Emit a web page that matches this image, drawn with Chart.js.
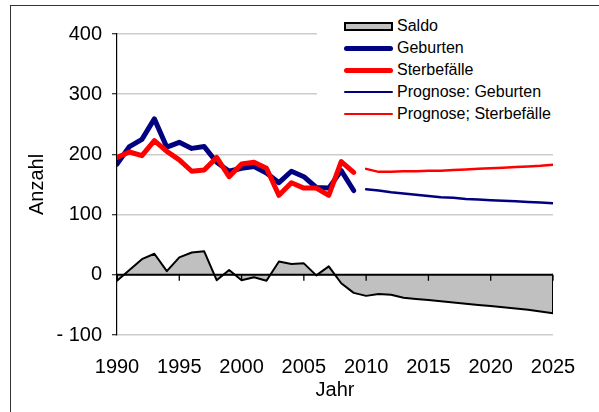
<!DOCTYPE html>
<html lang="de">
<head>
<meta charset="utf-8">
<title>Geburten und Sterbefälle</title>
<script src="https://cdn.jsdelivr.net/npm/chart.js@4"></script>
<style>
  body { margin: 0; background: #fff; }
  #wrap { position: relative; width: 599px; height: 412px; overflow: hidden; }
  #rahmen { position: absolute; left: 10px; top: 5px; width: 640px; height: 440px; border: 1.5px solid #333; pointer-events: none; }
  #legende { position: absolute; left: 317px; top: 15px; width: 262px; height: 110px; background: #fff;
             font-family: "Liberation Sans", Arial, sans-serif; font-size: 16px; color: #000; }
  .zeile { display: flex; align-items: center; height: 22px; }
  .sym { display: inline-block; margin-left: 27px; width: 49px; box-sizing: border-box; }
  .txt { margin-left: 4px; white-space: nowrap; }
</style>
</head>
<body>
<div id="wrap">
  <canvas id="grafik" width="599" height="412"></canvas>
  <div id="legende"></div>
  <div id="rahmen"></div>
</div>
<script>
// Jahre und Achsenbeschriftungen
const jahreIst = [1990, 1991, 1992, 1993, 1994, 1995, 1996, 1997, 1998, 1999,
                  2000, 2001, 2002, 2003, 2004, 2005, 2006, 2007, 2008, 2009];
const jahrePrognose = [2010, 2011, 2012, 2013, 2014, 2015, 2016, 2017,
                       2018, 2019, 2020, 2021, 2022, 2023, 2024, 2025];
const xTicks = [1990, 1995, 2000, 2005, 2010, 2015, 2020, 2025];
const yTicks = [-100, 0, 100, 200, 300, 400];

// Werte
const geburten = [184, 213, 225, 259, 212, 220, 210, 213, 187, 172,
                  177, 180, 169, 153, 172, 163, 145, 144, 173, 140];
const sterbefaelle = [195, 204, 198, 223, 205, 191, 172, 174, 195, 163,
                      184, 187, 177, 132, 153, 144, 144, 132, 188, 170];
const saldoIst = [-10, 8, 26, 35, 6, 29, 37, 39, -9, 8,
                  -9, -4, -10, 22, 18, 19, -1, 14, -14, -30];
const prognoseGeburten = [142, 140, 137, 135, 133, 131, 129, 128,
                          126, 125, 124, 123, 122, 121, 120, 119];
const prognoseSterbefaelle = [176, 171, 171, 172, 172, 173, 173, 174,
                              175, 176, 177, 178, 179, 180, 181, 183];
const saldoPrognose = [-35, -32, -33, -38, -40, -42, -44, -46,
                       -48, -50, -52, -54, -56, -58, -61, -64];

function punkte(jahre, werte) {
  return jahre.map((j, i) => ({ x: j, y: werte[i] }));
}

// Saldo als Fläche, an beiden Enden auf die Nulllinie geschlossen (wie in Excel)
const alleJahre = jahreIst.concat(jahrePrognose);
const saldoWerte = saldoIst.concat(saldoPrognose);
const saldoPunkte = [{ x: alleJahre[0], y: 0 }]
  .concat(punkte(alleJahre, saldoWerte))
  .concat([{ x: alleJahre[alleJahre.length - 1], y: 0 }]);

const schrift = "'Liberation Sans', Arial, sans-serif";

// Nulllinie mit Teilstrichen
const nullLinie = {
  id: 'nullLinie',
  afterDatasetsDraw(chart) {
    const { ctx, chartArea, scales } = chart;
    const y0 = scales.y.getPixelForValue(0);
    ctx.save();
    ctx.strokeStyle = '#000';
    ctx.lineWidth = 2;
    ctx.beginPath();
    ctx.moveTo(chartArea.left, y0);
    ctx.lineTo(chartArea.right, y0);
    ctx.stroke();
    ctx.lineWidth = 1.3;
    ctx.beginPath();
    xTicks.forEach(j => {
      const px = scales.x.getPixelForValue(j);
      ctx.moveTo(px, y0);
      ctx.lineTo(px, y0 + 6);
    });
    ctx.stroke();
    ctx.restore();
  }
};

const ctx = document.getElementById('grafik').getContext('2d');

const grafik = new Chart(ctx, {
  type: 'line',
  data: {
    datasets: [
      {
        label: 'Saldo',
        data: saldoPunkte,
        fill: 'origin',
        backgroundColor: '#c0c0c0',
        borderColor: '#000',
        borderWidth: 2,
        order: 2
      },
      {
        label: 'Geburten',
        data: punkte(jahreIst, geburten),
        borderColor: '#000080',
        borderWidth: 5,
        order: 1
      },
      {
        label: 'Sterbefälle',
        data: punkte(jahreIst, sterbefaelle),
        borderColor: '#ff0000',
        borderWidth: 5,
        order: 0
      },
      {
        label: 'Prognose: Geburten',
        data: punkte(jahrePrognose, prognoseGeburten),
        borderColor: '#000080',
        borderWidth: 2.5,
        order: 1
      },
      {
        label: 'Prognose; Sterbefälle',
        data: punkte(jahrePrognose, prognoseSterbefaelle),
        borderColor: '#ff0000',
        borderWidth: 2.5,
        order: 1
      }
    ]
  },
  options: {
    responsive: false,
    animation: false,
    events: [],
    elements: {
      point: { radius: 0 },
      line: { tension: 0, borderJoinStyle: 'round', borderCapStyle: 'round' }
    },
    layout: { padding: { left: 0, top: 34, right: 46, bottom: 0 } },
    plugins: {
      legend: { display: false },
      tooltip: { enabled: false }
    },
    scales: {
      x: {
        type: 'linear',
        min: xTicks[0],
        max: xTicks[xTicks.length - 1],
        afterBuildTicks: s => { s.ticks = xTicks.map(v => ({ value: v })); },
        afterFit: s => { s.height = 77; },
        grid: { display: false, drawTicks: false },
        border: { display: false },
        ticks: {
          padding: 20,
          color: '#000',
          font: { family: schrift, size: 20 },
          maxRotation: 0,
          autoSkip: false,
          callback: v => String(v)
        },
        title: {
          display: true,
          text: 'Jahr',
          color: '#000',
          font: { family: schrift, size: 20 },
          padding: { top: 0, bottom: 10 }
        }
      },
      y: {
        min: yTicks[0],
        max: yTicks[yTicks.length - 1],
        afterBuildTicks: s => { s.ticks = yTicks.map(v => ({ value: v })); },
        afterFit: s => { s.width = 117; },
        grid: { color: '#cccccc', lineWidth: 1.5, tickColor: '#000', tickLength: 5, tickWidth: 1 },
        border: { color: '#000', width: 1.2 },
        ticks: {
          padding: 10,
          color: '#000',
          font: { family: schrift, size: 20 },
          callback: v => (v < 0 ? '- ' + Math.abs(v) : String(v))
        },
        title: {
          display: true,
          text: 'Anzahl',
          color: '#000',
          font: { family: schrift, size: 20 },
          padding: { top: 25, bottom: 0 }
        }
      }
    }
  },
  plugins: [nullLinie]
});

// Legende als HTML, aus den Datensätzen gebaut
const legende = document.getElementById('legende');
grafik.data.datasets.forEach(ds => {
  const zeile = document.createElement('div');
  zeile.className = 'zeile';
  const sym = document.createElement('span');
  sym.className = 'sym';
  if (ds.fill) {
    sym.style.height = '9px';
    sym.style.background = ds.backgroundColor;
    sym.style.border = '2px solid ' + ds.borderColor;
  } else {
    sym.style.height = ds.borderWidth + 'px';
    sym.style.background = ds.borderColor;
    sym.style.borderRadius = ds.borderWidth + 'px';
  }
  const txt = document.createElement('span');
  txt.className = 'txt';
  txt.textContent = ds.label;
  zeile.appendChild(sym);
  zeile.appendChild(txt);
  legende.appendChild(zeile);
});
</script>
</body>
</html>
